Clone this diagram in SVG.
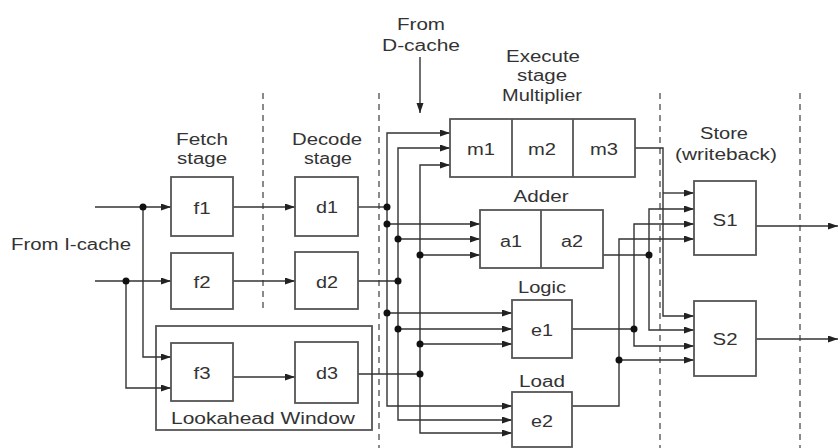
<svg xmlns="http://www.w3.org/2000/svg" width="839" height="448" viewBox="0 0 839 448">
<style>
.box{fill:#fff;stroke:#555;stroke-width:1.8}
.win{fill:none;stroke:#555;stroke-width:1.8}
.div{stroke:#555;stroke-width:1.8}
.w{fill:none;stroke:#333;stroke-width:1.4}
.a{fill:none;stroke:#333;stroke-width:1.4;marker-end:url(#arr)}
.dash{stroke:#8a8a8a;stroke-width:2;stroke-dasharray:6 5}
.dot{fill:#111}
text{font-family:"Liberation Sans",Arial,sans-serif;font-size:16px;fill:#333;text-anchor:middle}
</style>
<defs>
<marker id="arr" markerUnits="userSpaceOnUse" markerWidth="11" markerHeight="8" refX="10" refY="3.5" orient="auto">
<path d="M0,0 L10,3.5 L0,7 z" fill="#222"/>
</marker>
</defs>
<rect width="839" height="448" fill="#fff"/>
<g id="stage-dividers">
<line class="dash" x1="263" y1="93" x2="263" y2="312"/>
<line class="dash" x1="379" y1="93" x2="379" y2="448"/>
<line class="dash" x1="660" y1="93" x2="660" y2="448"/>
<line class="dash" x1="800" y1="93" x2="800" y2="448"/>
</g>
<g id="labels">
<text x="421" y="30" textLength="48" lengthAdjust="spacingAndGlyphs">From</text>
<text x="421" y="51" textLength="78" lengthAdjust="spacingAndGlyphs">D-cache</text>
<text x="543" y="62" textLength="74" lengthAdjust="spacingAndGlyphs">Execute</text>
<text x="542" y="81" textLength="50" lengthAdjust="spacingAndGlyphs">stage</text>
<text x="542" y="101" textLength="80" lengthAdjust="spacingAndGlyphs">Multiplier</text>
<text x="202" y="145" textLength="52" lengthAdjust="spacingAndGlyphs">Fetch</text>
<text x="202" y="164" textLength="50" lengthAdjust="spacingAndGlyphs">stage</text>
<text x="327" y="145" textLength="70" lengthAdjust="spacingAndGlyphs">Decode</text>
<text x="328" y="164" textLength="48" lengthAdjust="spacingAndGlyphs">stage</text>
<text x="724" y="139" textLength="48" lengthAdjust="spacingAndGlyphs">Store</text>
<text x="726" y="160" textLength="102" lengthAdjust="spacingAndGlyphs">(writeback)</text>
<text x="541" y="202" textLength="55" lengthAdjust="spacingAndGlyphs">Adder</text>
<text x="542" y="293" textLength="48" lengthAdjust="spacingAndGlyphs">Logic</text>
<text x="542" y="387" textLength="46" lengthAdjust="spacingAndGlyphs">Load</text>
<text x="71" y="250" textLength="120" lengthAdjust="spacingAndGlyphs">From I-cache</text>
</g>
<g id="lookahead-window">
<rect class="win" x="156" y="326" width="216" height="104"/>
<text x="263" y="424" textLength="184" lengthAdjust="spacingAndGlyphs">Lookahead Window</text>
</g>
<g id="connectors">
<path class="a" d="M95,207 H171"/>
<path class="a" d="M143,207 V357 H171"/>
<path class="a" d="M95,281 H171"/>
<path class="a" d="M126,281 V388 H171"/>
<path class="a" d="M233,207 H295"/>
<path class="a" d="M233,281 H295"/>
<path class="a" d="M233,377 H295"/>
<path class="w" d="M358,207 H387"/>
<path class="w" d="M358,281 H398"/>
<path class="w" d="M358,374 H420"/>
<path class="a" d="M420,57 V113"/>
<path class="a" d="M387,207 V133 H450"/>
<path class="a" d="M387,207 V406 H512"/>
<path class="a" d="M387,224 H480"/>
<path class="a" d="M387,313 H512"/>
<path class="a" d="M398,281 V148 H450"/>
<path class="a" d="M398,281 V420 H512"/>
<path class="a" d="M398,239 H480"/>
<path class="a" d="M398,329 H512"/>
<path class="a" d="M420,374 V165 H450"/>
<path class="a" d="M420,374 V433 H512"/>
<path class="a" d="M420,255 H480"/>
<path class="a" d="M420,344 H512"/>
<path class="a" d="M635,148 H663 V316 H694"/>
<path class="a" d="M663,193 H694"/>
<path class="w" d="M603,255 H649"/>
<path class="a" d="M649,255 V209 H694"/>
<path class="a" d="M649,255 V330 H694"/>
<path class="w" d="M572,329 H634"/>
<path class="a" d="M634,329 V224 H694"/>
<path class="a" d="M634,329 V346 H694"/>
<path class="a" d="M572,406 H619 V239 H694"/>
<path class="a" d="M619,360 H694"/>
<path class="a" d="M756,226 H838"/>
<path class="a" d="M756,339 H838"/>
<circle class="dot" cx="143" cy="207" r="3.5"/>
<circle class="dot" cx="126" cy="281" r="3.5"/>
<circle class="dot" cx="387" cy="207" r="3.5"/>
<circle class="dot" cx="398" cy="281" r="3.5"/>
<circle class="dot" cx="420" cy="374" r="3.5"/>
<circle class="dot" cx="387" cy="224" r="3.5"/>
<circle class="dot" cx="398" cy="239" r="3.5"/>
<circle class="dot" cx="420" cy="255" r="3.5"/>
<circle class="dot" cx="387" cy="313" r="3.5"/>
<circle class="dot" cx="398" cy="329" r="3.5"/>
<circle class="dot" cx="420" cy="344" r="3.5"/>
<circle class="dot" cx="649" cy="255" r="3.5"/>
<circle class="dot" cx="634" cy="329" r="3.5"/>
<circle class="dot" cx="619" cy="360" r="3.5"/>
</g>
<g id="f1"><rect class="box" x="171" y="177" width="62" height="59"/><text x="202" y="214" textLength="17" lengthAdjust="spacingAndGlyphs">f1</text></g>
<g id="f2"><rect class="box" x="171" y="253" width="62" height="56"/><text x="202" y="288" textLength="17" lengthAdjust="spacingAndGlyphs">f2</text></g>
<g id="f3"><rect class="box" x="171" y="343" width="62" height="58"/><text x="202" y="379" textLength="17" lengthAdjust="spacingAndGlyphs">f3</text></g>
<g id="d1"><rect class="box" x="295" y="177" width="63" height="59"/><text x="327" y="213" textLength="22" lengthAdjust="spacingAndGlyphs">d1</text></g>
<g id="d2"><rect class="box" x="295" y="252" width="63" height="57"/><text x="327" y="288" textLength="22" lengthAdjust="spacingAndGlyphs">d2</text></g>
<g id="d3"><rect class="box" x="295" y="342" width="63" height="61"/><text x="327" y="379" textLength="22" lengthAdjust="spacingAndGlyphs">d3</text></g>
<g id="multiplier">
<rect class="box" x="450" y="119" width="185" height="58"/>
<line class="div" x1="512" y1="119" x2="512" y2="177"/>
<line class="div" x1="573" y1="119" x2="573" y2="177"/>
<text x="481" y="155" textLength="28" lengthAdjust="spacingAndGlyphs">m1</text>
<text x="542" y="155" textLength="28" lengthAdjust="spacingAndGlyphs">m2</text>
<text x="604" y="155" textLength="28" lengthAdjust="spacingAndGlyphs">m3</text>
</g>
<g id="adder">
<rect class="box" x="480" y="210" width="123" height="58"/>
<line class="div" x1="541" y1="210" x2="541" y2="268"/>
<text x="511" y="247" textLength="22" lengthAdjust="spacingAndGlyphs">a1</text>
<text x="572" y="247" textLength="22" lengthAdjust="spacingAndGlyphs">a2</text>
</g>
<g id="e1"><rect class="box" x="512" y="300" width="60" height="58"/><text x="542" y="336" textLength="22" lengthAdjust="spacingAndGlyphs">e1</text></g>
<g id="e2"><rect class="box" x="512" y="392" width="60" height="55"/><text x="542" y="427" textLength="22" lengthAdjust="spacingAndGlyphs">e2</text></g>
<g id="S1"><rect class="box" x="694" y="181" width="62" height="74"/><text x="725" y="226" textLength="25" lengthAdjust="spacingAndGlyphs">S1</text></g>
<g id="S2"><rect class="box" x="694" y="301" width="62" height="75"/><text x="725" y="345" textLength="25" lengthAdjust="spacingAndGlyphs">S2</text></g>
</svg>
